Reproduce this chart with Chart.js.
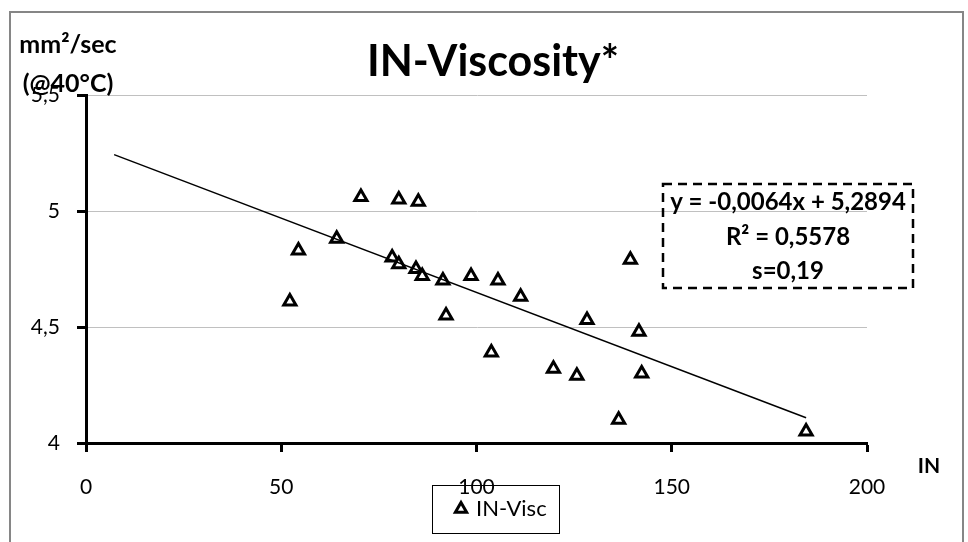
<!DOCTYPE html>
<html lang="en">
<head>
<meta charset="UTF-8">
<title>IN-Viscosity*</title>
<script src="https://cdn.jsdelivr.net/npm/chart.js@4.4.1/dist/chart.umd.min.js"></script>
<style>
    html, body { margin: 0; padding: 0; background: #fff; }
    #chartBox { width: 968px; height: 542px; }
</style>
</head>
<body>
<div id="chartBox"><canvas id="viscChart" width="968" height="542"></canvas></div>
<script>
// values
const inValues = [52.2, 54.4, 64.2, 70.4, 80.1, 85.1, 78.4, 80.1, 84.5, 86.1, 91.4, 92.2,
    98.6, 103.8, 105.5, 111.3, 119.7, 125.7, 128.3, 136.4, 139.4, 141.6, 142.3, 184.4];
const viscValues = [4.61, 4.83, 4.88, 5.06, 5.05, 5.04, 4.80, 4.77, 4.75, 4.72, 4.70, 4.55,
    4.72, 4.39, 4.70, 4.63, 4.32, 4.29, 4.53, 4.10, 4.79, 4.48, 4.30, 4.05];

// ends of the linear trendline as drawn
const trendIn = [7.2, 184.4];
const trendVisc = [5.243, 4.109];

const xTicks = [0, 50, 100, 150, 200];
const yTicks = [4, 4.5, 5, 5.5];

const titleText = 'IN-Viscosity*';
const yTitleLines = ['mm²/sec', '(@40°C)'];
const xTitleText = 'IN';
const seriesLabel = 'IN-Visc';
const equationLines = ['y = -0,0064x + 5,2894', 'R² = 0,5578', 's=0,19'];

const FONT = 'Lato, "Open Sans", sans-serif';

const toComma = (v) => String(v).replace('.', ',');

// border, title, axis titles, equation box and legend
const decorations = {
    id: 'decorations',
    beforeDraw(chart) {
        const ctx = chart.ctx;
        ctx.save();
        ctx.strokeStyle = '#868686';
        ctx.lineWidth = 2;
        ctx.strokeRect(10, 12, 953, 540);
        ctx.restore();
    },
    afterDraw(chart) {
        const ctx = chart.ctx;
        ctx.save();
        ctx.fillStyle = '#000';
        ctx.textBaseline = 'alphabetic';

        // title
        ctx.textAlign = 'center';
        ctx.font = `bold 43px ${FONT}`;
        ctx.fillText(titleText, 493, 76);

        // y axis title
        ctx.font = `bold 25px ${FONT}`;
        ctx.fillText(yTitleLines[0], 68, 53);
        ctx.fillText(yTitleLines[1], 68, 92);

        // x axis title
        ctx.font = `bold 21px ${FONT}`;
        ctx.textBaseline = 'middle';
        ctx.fillText(xTitleText, 929, 466);

        // equation box
        ctx.strokeStyle = '#000';
        ctx.lineWidth = 2.5;
        ctx.setLineDash([9, 6]);
        ctx.strokeRect(663, 184, 250, 104);
        ctx.setLineDash([]);
        ctx.textBaseline = 'alphabetic';
        ctx.font = `bold 24px ${FONT}`;
        const eqBaselines = [210, 245, 279];
        equationLines.forEach((line, i) => ctx.fillText(line, 788, eqBaselines[i]));

        // legend
        const ds = chart.data.datasets.find(d => d.label === seriesLabel);
        ctx.lineWidth = 1;
        ctx.strokeRect(432.5, 485.5, 127, 48);
        ctx.fillStyle = ds.backgroundColor;
        ctx.strokeStyle = ds.borderColor;
        ctx.lineWidth = 3;
        Chart.helpers.drawPoint(ctx, {
            pointStyle: ds.pointStyle,
            radius: 6.5,
            borderWidth: 3,
            rotation: 0
        }, 461, 509);
        ctx.fillStyle = '#000';
        ctx.textAlign = 'left';
        ctx.textBaseline = 'middle';
        ctx.font = `22px ${FONT}`;
        ctx.fillText(ds.label, 476, 509);
        ctx.restore();
    }
};

const ctx = document.getElementById('viscChart').getContext('2d');
new Chart(ctx, {
    type: 'scatter',
    data: {
        datasets: [
            {
                label: 'trend',
                type: 'line',
                data: trendIn.map((x, i) => ({ x: x, y: trendVisc[i] })),
                borderColor: '#000',
                borderWidth: 1.5,
                pointRadius: 0,
                fill: false,
                order: 0
            },
            {
                label: seriesLabel,
                data: inValues.map((x, i) => ({ x: x, y: viscValues[i] })),
                pointStyle: 'triangle',
                pointRadius: 7,
                pointHoverRadius: 7,
                borderWidth: 3,
                borderColor: '#000',
                backgroundColor: '#fff',
                order: 1
            }
        ]
    },
    options: {
        responsive: false,
        animation: false,
        devicePixelRatio: 1,
        layout: {
            padding: { left: 0, top: 95, right: 101, bottom: 0 }
        },
        plugins: {
            legend: { display: false },
            tooltip: { enabled: false },
            title: { display: false }
        },
        scales: {
            x: {
                type: 'linear',
                min: 0,
                max: 200,
                afterBuildTicks: (scale) => { scale.ticks = xTicks.map(v => ({ value: v })); },
                afterFit: (scale) => { scale.height = 99; },
                border: { display: true, color: '#000', width: 3 },
                grid: {
                    drawOnChartArea: false,
                    drawTicks: true,
                    tickLength: 9,
                    tickWidth: 3,
                    tickColor: '#000'
                },
                ticks: {
                    color: '#000',
                    padding: 23,
                    maxRotation: 0,
                    font: { family: FONT, size: 21 },
                    callback: (v) => toComma(v)
                }
            },
            y: {
                type: 'linear',
                min: 4,
                max: 5.5,
                afterBuildTicks: (scale) => { scale.ticks = yTicks.map(v => ({ value: v })); },
                afterFit: (scale) => { scale.width = 86; },
                border: { display: true, color: '#000', width: 3 },
                grid: {
                    color: '#c0c0c0',
                    lineWidth: 1,
                    drawTicks: true,
                    tickLength: 9,
                    tickWidth: 3,
                    tickColor: '#000'
                },
                ticks: {
                    color: '#000',
                    padding: 17,
                    font: { family: FONT, size: 21 },
                    callback: (v) => toComma(v)
                }
            }
        }
    },
    plugins: [decorations]
});
</script>
</body>
</html>
